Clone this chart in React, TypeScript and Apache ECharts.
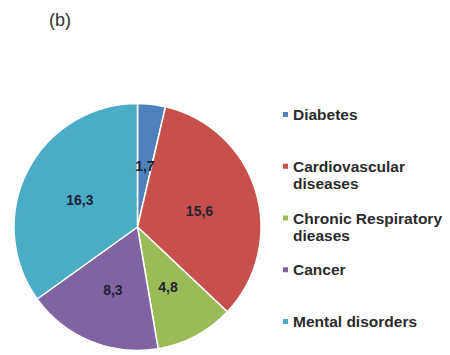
import React, { useEffect, useRef } from "react";
import * as echarts from "echarts";

// Disease burden shares shown in panel (b)
const categories = [
  "Diabetes",
  "Cardiovascular diseases",
  "Chronic Respiratory dieases",
  "Cancer",
  "Mental disorders",
];
const values = [1.7, 15.6, 4.8, 8.3, 16.3];
const colors = ["#4F81BD", "#C8504C", "#9BBB59", "#8064A2", "#4BACC6"];
const panelTitle = "(b)";

const FONT = "'Liberation Sans', Arial, Helvetica, sans-serif";

// Greedy word wrap for legend entries
function wrap(name: string, maxChars: number): string[] {
  const words = name.split(" ");
  const lines: string[] = [];
  let cur = "";
  for (const w of words) {
    const next = cur ? cur + " " + w : w;
    if (next.length > maxChars && cur) {
      lines.push(cur);
      cur = w;
    } else {
      cur = next;
    }
  }
  if (cur) lines.push(cur);
  return lines;
}

export default function App() {
  const ref = useRef<HTMLDivElement>(null);

  useEffect(() => {
    if (!ref.current) return;
    const chart = echarts.init(ref.current, undefined, { renderer: "svg" });

    // one legend block per category so every entry starts on an even row
    const legends = categories.map((name, i) => ({
      data: [name],
      orient: "vertical" as const,
      left: 278,
      top: 106.5 + i * 51.75,
      padding: 0,
      icon: "none",
      itemWidth: 0,
      itemHeight: 5,
      selectedMode: false,
      formatter: (n: string) => {
        const lines = wrap(n, 20);
        return lines
          .map((l, k) => (k === 0 ? `{m| }{g| }{t|${l}}` : `{s| }{t|${l}}`))
          .join("\n");
      },
      textStyle: {
        rich: {
          m: { width: 5, height: 5, backgroundColor: colors[i], verticalAlign: "middle" },
          g: { width: 5, height: 5 },
          s: { width: 10, height: 5 },
          t: {
            fontFamily: FONT,
            fontSize: 15.5,
            fontWeight: "bold",
            color: "#2b2b2b",
            lineHeight: 17,
          },
        },
      },
    }));

    chart.setOption({
      animation: false,
      backgroundColor: "#ffffff",
      title: {
        text: panelTitle,
        left: 49,
        top: 11,
        padding: 0,
        textStyle: {
          fontFamily: FONT,
          fontSize: 18,
          fontWeight: "normal",
          color: "#333333",
        },
      },
      legend: legends,
      series: [
        {
          type: "pie",
          center: [137.5, 227],
          radius: 123.5,
          startAngle: 90,
          clockwise: true,
          avoidLabelOverlap: false,
          data: categories.map((name, i) => ({
            name,
            value: values[i],
            itemStyle: { color: colors[i] },
          })),
          itemStyle: { borderColor: "#ffffff", borderWidth: 1.5 },
          label: {
            show: true,
            position: "inside",
            formatter: (p: any) => p.value.toFixed(1).replace(".", ","),
            fontFamily: FONT,
            fontSize: 14,
            fontWeight: "bold",
            color: "#1f2230",
            offset: [0, 3],
          },
          labelLine: { show: false },
          emphasis: { disabled: true },
        },
      ],
    });

    return () => chart.dispose();
  }, []);

  return (
    <div
      ref={ref}
      style={{ position: "fixed", left: 0, top: 0, width: 450, height: 355 }}
    />
  );
}
